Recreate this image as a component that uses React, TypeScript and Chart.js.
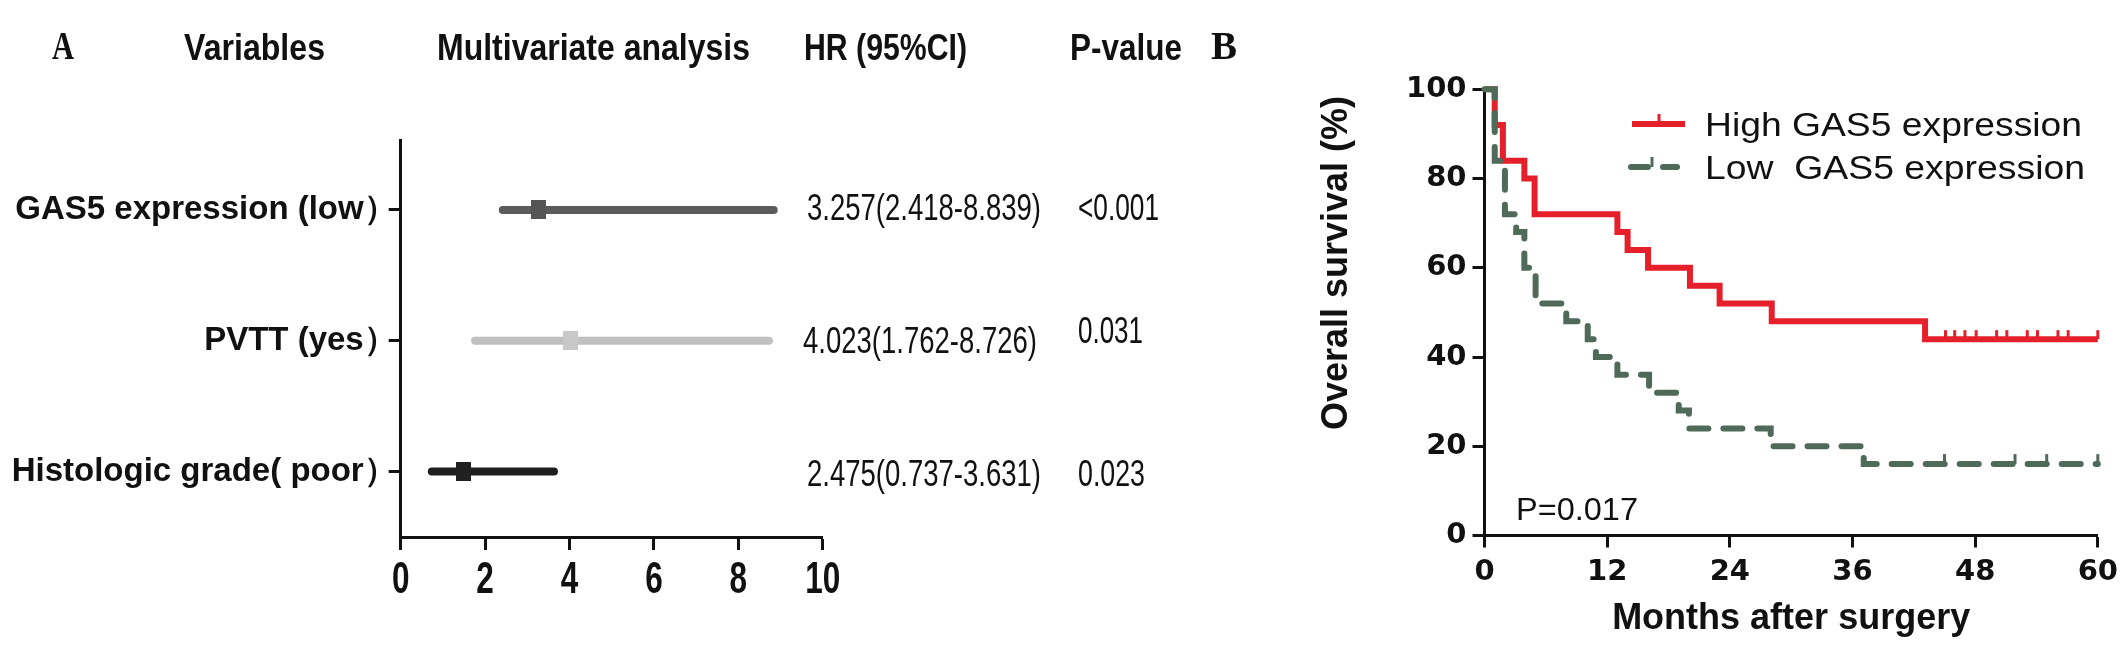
import React, { useEffect, useRef } from 'react';
import { Chart, registerables } from 'chart.js';

Chart.register(...registerables);

// ---------------- data: panel A (forest plot) ----------------
const forestVariables = ['GAS5 expression (low）', 'PVTT (yes）', 'Histologic grade( poor）'];
const forestRows = [1, 2, 3];
const hrLower = [2.418, 1.762, 0.737];
const hrUpper = [8.839, 8.726, 3.631];
const hrPlotted = [3.257, 4.023, 1.48];
const hrText = ['3.257(2.418-8.839)', '4.023(1.762-8.726)', '2.475(0.737-3.631)'];
const pText = ['<0.001', '0.031', '0.023'];
const forestTicks = [0, 2, 4, 6, 8, 10];
const headerLabels = ['Variables', 'Multivariate analysis', 'HR (95%CI)', 'P-value'];

// ---------------- data: panel B (Kaplan-Meier) ----------------
const highTimes = [0, 1.0, 1.8, 3.9, 4.9, 13.0, 14.0, 16.0, 20.1, 23.0, 28.1, 43.1, 60];
const highSurvival = [100, 92, 84, 80, 72, 68, 64, 60, 56, 52, 48, 44, 44];
const highCensorTimes = [45.1, 46.0, 47.0, 48.1, 50.1, 51.1, 53.1, 54.1, 56.1, 57.1, 60];
const highCensorSurvival = [44, 44, 44, 44, 44, 44, 44, 44, 44, 44, 44];
const lowTimes = [0, 1.0, 2.0, 3.1, 3.9, 5.0, 8.0, 10.1, 10.9, 13.0, 16.1, 19.0, 20.0, 28.0, 37.1, 60];
const lowSurvival = [100, 84, 72, 68, 60, 52, 48, 44, 40, 36, 32, 28, 24, 20, 16, 16];
const lowCensorTimes = [45.0, 51.9, 55.0, 60];
const lowCensorSurvival = [16, 16, 16, 16];
const kmXTicks = [0, 12, 24, 36, 48, 60];
const kmYTicks = [0, 20, 40, 60, 80, 100];
const legendLabels = ['High GAS5 expression', 'Low  GAS5 expression'];
const pValueLabel = 'P=0.017';
const kmXTitle = 'Months after surgery';
const kmYTitle = 'Overall survival (%)';

// ---------------- styles / layout ----------------
const SANS = "'Liberation Sans', Arial, sans-serif";
const SERIF = "'Liberation Serif', 'Times New Roman', serif";
const DEJAVU = "'DejaVu Sans', sans-serif";
const INK = '#111111';
const RED = '#e5202a';
const GREEN = '#4f6a58';
const forestLineColors = ['#5b5b5b', '#c0c0c0', '#1e1e1e'];
const forestMarkerColors = ['#555555', '#c8c8c8', '#202020'];

const A_W = 1200;
const B_W = 926;
const H = 648;

const headerX = [184, 437, 804, 1070];
const headerW = [141, 313, 163, 112];
const hrX = [807, 803, 807];
const hrDy = [-3, -1, 1];
const pDy = [-3, -11, 1];
const pW = [81, 65, 67];

type TextOpts = { font: string; width?: number; sx?: number; align?: 'left' | 'center' | 'right'; color?: string };

function drawText(ctx: CanvasRenderingContext2D, text: string, x: number, y: number, o: TextOpts) {
  ctx.save();
  ctx.font = o.font;
  ctx.fillStyle = o.color ?? INK;
  ctx.textBaseline = 'alphabetic';
  ctx.textAlign = 'left';
  const natural = ctx.measureText(text).width;
  const sx = o.width ? o.width / natural : (o.sx ?? 1);
  const w = natural * sx;
  const left = o.align === 'center' ? x - w / 2 : o.align === 'right' ? x - w : x;
  ctx.translate(left, y);
  ctx.scale(sx, 1);
  ctx.fillText(text, 0, 0);
  ctx.restore();
}

function makeMarker(color: string): HTMLCanvasElement {
  const c = document.createElement('canvas');
  c.width = 15;
  c.height = 19;
  const g = c.getContext('2d')!;
  g.fillStyle = color;
  g.fillRect(0, 0, 15, 19);
  return c;
}

const forestTextPlugin = {
  id: 'forestText',
  afterDraw(chart: any) {
    const ctx: CanvasRenderingContext2D = chart.ctx;
    const ys = chart.scales.y;
    const xs = chart.scales.x;
    drawText(ctx, 'A', 52, 59, { font: `bold 39px ${SERIF}`, width: 22 });
    headerLabels.forEach((t, i) =>
      drawText(ctx, t, headerX[i], 60, { font: `bold 37px ${SANS}`, width: headerW[i] })
    );
    forestRows.forEach((r, i) => {
      const py = ys.getPixelForValue(r);
      drawText(ctx, hrText[i], hrX[i], py + hrDy[i] + 13, { font: `37px ${SANS}`, width: 234 });
      drawText(ctx, pText[i], 1078, py + pDy[i] + 13, { font: `37px ${SANS}`, width: pW[i] });
    });
    xs.ticks.forEach((t: any) =>
      drawText(ctx, String(t.value), xs.getPixelForValue(t.value), 593, {
        font: `bold 45px ${SANS}`,
        sx: 0.7,
        align: 'center',
      })
    );
  },
};

const kmTextPlugin = {
  id: 'kmText',
  afterDraw(chart: any) {
    const ctx: CanvasRenderingContext2D = chart.ctx;
    drawText(ctx, 'B', 11, 59, { font: `bold 39px ${SERIF}` });

    ctx.save();
    ctx.translate(137, 263);
    ctx.rotate(-Math.PI / 2);
    ctx.font = `bold 36px ${SANS}`;
    ctx.textAlign = 'center';
    ctx.textBaseline = 'middle';
    ctx.fillStyle = INK;
    ctx.fillText(kmYTitle, 0, 0);
    ctx.restore();

    drawText(ctx, pValueLabel, 316, 520, { font: `32px ${SANS}`, width: 122 });

    // legend samples
    ctx.save();
    ctx.strokeStyle = RED;
    ctx.lineWidth = 6;
    ctx.lineCap = 'butt';
    ctx.beginPath();
    ctx.moveTo(432, 124);
    ctx.lineTo(485, 124);
    ctx.stroke();
    ctx.lineWidth = 3;
    ctx.beginPath();
    ctx.moveTo(459, 124);
    ctx.lineTo(459, 114);
    ctx.stroke();

    ctx.strokeStyle = GREEN;
    ctx.lineWidth = 6;
    ctx.lineCap = 'round';
    ctx.beginPath();
    ctx.moveTo(431, 167);
    ctx.lineTo(448, 167);
    ctx.moveTo(463, 167);
    ctx.lineTo(477, 167);
    ctx.stroke();
    ctx.lineWidth = 3;
    ctx.lineCap = 'butt';
    ctx.beginPath();
    ctx.moveTo(452, 167);
    ctx.lineTo(452, 157);
    ctx.stroke();
    ctx.restore();

    drawText(ctx, legendLabels[0], 505, 136, { font: `34px ${SANS}`, width: 377 });
    drawText(ctx, legendLabels[1], 505, 179, { font: `34px ${SANS}`, width: 380 });
  },
};

const axisGrid = (len: number) => ({
  drawOnChartArea: false,
  drawTicks: true,
  tickLength: len,
  tickWidth: 3,
  tickColor: INK,
});
const axisBorder = { display: true, width: 3, color: INK };

export default function App() {
  const aRef = useRef<HTMLCanvasElement>(null);
  const bRef = useRef<HTMLCanvasElement>(null);

  useEffect(() => {
    const markers = forestMarkerColors.map(makeMarker);
    const forest = new Chart(aRef.current!, {
      type: 'scatter',
      data: {
        datasets: [
          {
            data: forestRows.map((r, i) => ({ x: hrPlotted[i], y: r })),
            pointStyle: markers as any,
            pointRadius: 9,
            order: 0,
            clip: false,
          } as any,
          ...forestRows.map((r, i) => ({
            data: [
              { x: hrLower[i], y: r },
              { x: hrUpper[i], y: r },
            ],
            showLine: true,
            borderColor: forestLineColors[i],
            borderWidth: 8,
            borderCapStyle: 'round',
            pointRadius: 0,
            order: 1,
            clip: false,
          })),
        ],
      },
      options: {
        responsive: false,
        maintainAspectRatio: false,
        animation: false,
        devicePixelRatio: 1,
        events: [],
        layout: { padding: { left: 0, top: 140, right: A_W - 822.7, bottom: 0 } },
        plugins: { legend: { display: false }, tooltip: { enabled: false } },
        scales: {
          x: {
            type: 'linear',
            min: 0,
            max: 10,
            afterBuildTicks: (s: any) => {
              s.ticks = forestTicks.map((v) => ({ value: v }));
            },
            afterFit: (s: any) => {
              s.height = H - 537;
            },
            ticks: { display: false },
            grid: axisGrid(13),
            border: axisBorder,
          },
          y: {
            type: 'linear',
            reverse: true,
            min: 0.465,
            max: 3.5,
            afterBuildTicks: (s: any) => {
              s.ticks = forestRows.map((v) => ({ value: v }));
            },
            afterFit: (s: any) => {
              s.width = 400.7;
            },
            ticks: {
              autoSkip: false,
              callback: (v: any) => forestVariables[forestRows.indexOf(Number(v))] ?? '',
              font: { family: SANS, weight: 'bold', size: 33 },
              color: INK,
              padding: -8,
            },
            grid: axisGrid(12),
            border: axisBorder,
          },
        },
      } as any,
      plugins: [forestTextPlugin],
    });

    const km = new Chart(bRef.current!, {
      type: 'scatter',
      data: {
        datasets: [
          {
            data: highCensorTimes.map((t, i) => ({ x: t, y: highCensorSurvival[i] })),
            pointStyle: 'dash',
            pointRotation: -90,
            pointRadius: 9,
            pointBorderWidth: 3,
            pointBorderColor: RED,
            pointBackgroundColor: RED,
            order: 0,
            clip: false,
          } as any,
          {
            data: lowCensorTimes.map((t, i) => ({ x: t, y: lowCensorSurvival[i] })),
            pointStyle: 'dash',
            pointRotation: -90,
            pointRadius: 10,
            pointBorderWidth: 3,
            pointBorderColor: GREEN,
            pointBackgroundColor: GREEN,
            order: 0,
            clip: false,
          },
          {
            data: lowTimes.map((t, i) => ({ x: t, y: lowSurvival[i] })),
            showLine: true,
            stepped: true,
            borderColor: GREEN,
            borderWidth: 6,
            borderDash: [19, 15],
            borderCapStyle: 'round',
            pointRadius: 0,
            order: 1,
            clip: false,
          },
          {
            data: highTimes.map((t, i) => ({ x: t, y: highSurvival[i] })),
            showLine: true,
            stepped: true,
            borderColor: RED,
            borderWidth: 6,
            borderCapStyle: 'butt',
            borderJoinStyle: 'miter',
            pointRadius: 0,
            order: 2,
            clip: false,
          },
        ],
      },
      options: {
        responsive: false,
        maintainAspectRatio: false,
        animation: false,
        devicePixelRatio: 1,
        events: [],
        layout: { padding: { left: 0, top: 89.3, right: 24, bottom: 0 } },
        plugins: { legend: { display: false }, tooltip: { enabled: false } },
        scales: {
          x: {
            type: 'linear',
            min: 0,
            max: 60,
            afterBuildTicks: (s: any) => {
              s.ticks = kmXTicks.map((v) => ({ value: v }));
            },
            afterFit: (s: any) => {
              s.height = H - 535.5;
            },
            ticks: {
              font: { family: DEJAVU, weight: 'bold', size: 29 },
              color: INK,
              padding: 8,
              maxRotation: 0,
              autoSkip: false,
            },
            title: {
              display: true,
              text: kmXTitle,
              font: { family: SANS, weight: 'bold', size: 36 },
              color: INK,
              padding: { top: 0, bottom: 7 },
            },
            grid: axisGrid(12),
            border: axisBorder,
          },
          y: {
            type: 'linear',
            min: 0,
            max: 100,
            afterBuildTicks: (s: any) => {
              s.ticks = kmYTicks.map((v) => ({ value: v }));
            },
            afterFit: (s: any) => {
              s.width = 284.5;
            },
            ticks: {
              font: { family: DEJAVU, weight: 'bold', size: 29 },
              color: INK,
              padding: 6,
              autoSkip: false,
            },
            grid: axisGrid(12),
            border: axisBorder,
          },
        },
      } as any,
      plugins: [kmTextPlugin],
    });

    return () => {
      forest.destroy();
      km.destroy();
    };
  }, []);

  return (
    <div style={{ position: 'absolute', left: 0, top: 0, width: A_W + B_W, height: H, background: '#ffffff' }}>
      <canvas ref={aRef} width={A_W} height={H} style={{ position: 'absolute', left: 0, top: 0 }} />
      <canvas ref={bRef} width={B_W} height={H} style={{ position: 'absolute', left: A_W, top: 0 }} />
    </div>
  );
}
